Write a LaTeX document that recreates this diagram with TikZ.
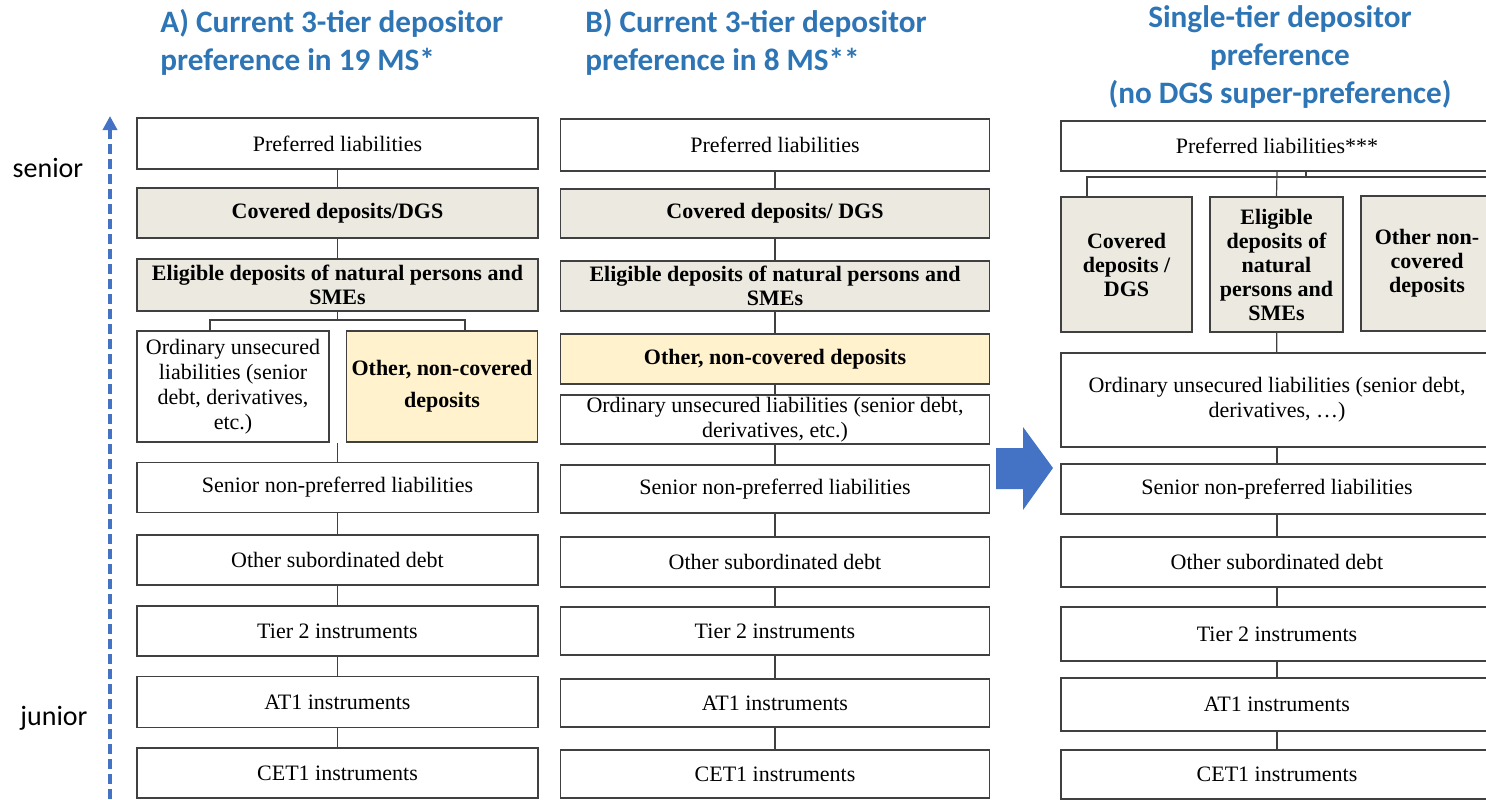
\documentclass[tikz,border=0pt]{standalone}
\usepackage{fontspec}
\setmainfont{Liberation Serif}
\newfontfamily\calibri{Carlito}
\usetikzlibrary{arrows.meta}
\definecolor{titleblue}{HTML}{2E75B6}
\definecolor{arrowblue}{HTML}{4472C4}
\definecolor{depgray}{HTML}{ECEAE0}
\definecolor{othyellow}{HTML}{FFF2CC}
\begin{document}
\begin{tikzpicture}[x=0.5pt,y=-0.5pt,
    tier/.style={draw=black!75,line width=0.75pt,align=center,inner sep=1pt,font=\fontsize{11}{12.5}\selectfont},
    dep/.style={tier,fill=depgray,font=\fontsize{11}{12}\selectfont\bfseries},
    othdep/.style={dep,fill=othyellow},
    colA/.style={minimum width=200.5pt},
    colB/.style={minimum width=214.5pt},
    colC/.style={minimum width=216pt},
    link/.style={draw=black!75,line width=0.6pt},
    heading/.style={text=titleblue,font=\calibri\bfseries\fontsize{15.6}{19}\selectfont,inner sep=0pt},
    rank/.style={font=\calibri\fontsize{14}{16}\selectfont}]
        \useasboundingbox(0,0)rectangle(1486,799);
        \clip(0,0)rectangle(1486,799);
        \node[heading,anchor=north west,align=left](ta)at(160,9){A) Current 3-tier depositor\\preference in 19 MS*};
        \node[heading,anchor=north west,align=left](tb)at(585,9){B) Current 3-tier depositor\\preference in 8 MS**};
        \node[heading,anchor=north,align=center](tc)at(1280,5){Single-tier depositor\\preference\\(no DGS super-preference)};
        \node[rank](sen)at(48,168){senior};
        \node[rank](jun)at(54,718){junior};
        \coordinate(up1)at(110,799);
        \coordinate(up2)at(110,116);
        \draw[arrowblue,line width=1.8pt,dash pattern=on 5pt off 2.5pt,-{Triangle[length=7pt,width=7pt]}](up1)--(up2);
        \node[tier,colA,minimum height=25.5pt](a1)at(337.5,143.5){Preferred liabilities};
        \node[dep,colA,minimum height=25pt](a2)at(337.5,213){Covered deposits/DGS};
        \node[dep,colA,minimum height=26pt](a3)at(337.5,285){Eligible deposits of natural persons and\\SMEs};
        \node[tier,minimum width=96pt,minimum height=55.5pt](a4)at(233,386.5){Ordinary unsecured\\liabilities (senior\\debt, derivatives,\\etc.)};
        \node[othdep,minimum width=95.5pt,minimum height=55.5pt](a5)at(442,386.5){Other, non-covered\\[4pt]deposits};
        \node[tier,colA,minimum height=25pt](a6)at(337.5,487.5){Senior non-preferred liabilities};
        \node[tier,colA,minimum height=25pt](a7)at(337.5,560){Other subordinated debt};
        \node[tier,colA,minimum height=25pt](a8)at(337.5,631){Tier 2 instruments};
        \node[tier,colA,minimum height=25.5pt](a9)at(337.5,702){AT1 instruments};
        \node[tier,colA,minimum height=25pt](a10)at(337.5,773){CET1 instruments};
        \coordinate(ka)at(337.5,320);
        \coordinate(kb)at(337.5,443);
        \draw[link](a1)--(a2);
        \draw[link](a2)--(a3);
        \draw[link](a3.south)--(ka);
        \draw[link]([xshift=-11.5pt]a4.north)|-(ka)-|([xshift=11.5pt]a5.north);
        \draw[link](kb)--(a6.north);
        \draw[link](a6)--(a7);
        \draw[link](a7)--(a8);
        \draw[link](a8)--(a9);
        \draw[link](a9)--(a10);
        \node[tier,colB,minimum height=26pt](b1)at(775,145){Preferred liabilities};
        \node[dep,colB,minimum height=24.5pt](b2)at(775,213.5){Covered deposits/ DGS};
        \node[dep,colB,minimum height=25pt](b3)at(775,286){Eligible deposits of natural persons and\\SMEs};
        \node[othdep,colB,minimum height=25pt](b4)at(775,359){Other, non-covered deposits};
        \node[tier,colB,minimum height=24.5pt](b5)at(775,419.5){Ordinary unsecured liabilities (senior debt,\\derivatives, etc.)};
        \node[tier,colB,minimum height=24pt](b6)at(775,489){Senior non-preferred liabilities};
        \node[tier,colB,minimum height=25pt](b7)at(775,562){Other subordinated debt};
        \node[tier,colB,minimum height=24pt](b8)at(775,631){Tier 2 instruments};
        \node[tier,colB,minimum height=24pt](b9)at(775,703){AT1 instruments};
        \node[tier,colB,minimum height=24pt](b10)at(775,774){CET1 instruments};
        \draw[link](b1)--(b2);
        \draw[link](b2)--(b3);
        \draw[link](b3)--(b4);
        \draw[link](b4)--(b5);
        \draw[link](b5)--(b6);
        \draw[link](b6)--(b7);
        \draw[link](b7)--(b8);
        \draw[link](b8)--(b9);
        \draw[link](b9)--(b10);
        \fill[arrowblue](996,448)--(1023,448)--(1023,427)--(1053,468)--(1023,510)--(1023,489)--(996,489)--cycle;
        \node[tier,colC,minimum height=25pt](c1)at(1277,146){Preferred liabilities***};
        \node[dep,minimum width=65.5pt,minimum height=67.5pt](c2)at(1126.5,264.5){Covered\\deposits /\\DGS};
        \node[dep,minimum width=66.5pt,minimum height=67.5pt](c3)at(1276.5,264.5){Eligible\\deposits of\\natural\\persons and\\SMEs};
        \node[dep,minimum width=66pt,minimum height=67.5pt](c4)at(1427,263.5){Other non-\\covered\\deposits};
        \node[tier,colC,minimum height=47pt](c5)at(1277,400){Ordinary unsecured liabilities (senior debt,\\derivatives, \ldots)};
        \node[tier,colC,minimum height=25pt](c6)at(1277,489){Senior non-preferred liabilities};
        \node[tier,colC,minimum height=25pt](c7)at(1277,562){Other subordinated debt};
        \node[tier,colC,minimum height=27pt](c8)at(1277,634){Tier 2 instruments};
        \node[tier,colC,minimum height=26.5pt](c9)at(1277,704.5){AT1 instruments};
        \node[tier,colC,minimum height=24.5pt](c10)at(1277,774.5){CET1 instruments};
        \coordinate(kc)at(1306,177);
        \coordinate(kd)at(1500,177);
        \draw[link](c1.south-|kc)--(kc)-|([xshift=-19.75pt]c2.north);
        \draw[link](kc)--(kd);
        \draw[link](c1.south)--(c3.north);
        \draw[link](c3)--(c5);
        \draw[link](c5)--(c6);
        \draw[link](c6)--(c7);
        \draw[link](c7)--(c8);
        \draw[link](c8)--(c9);
        \draw[link](c9)--(c10);
    \end{tikzpicture}
\end{document}
